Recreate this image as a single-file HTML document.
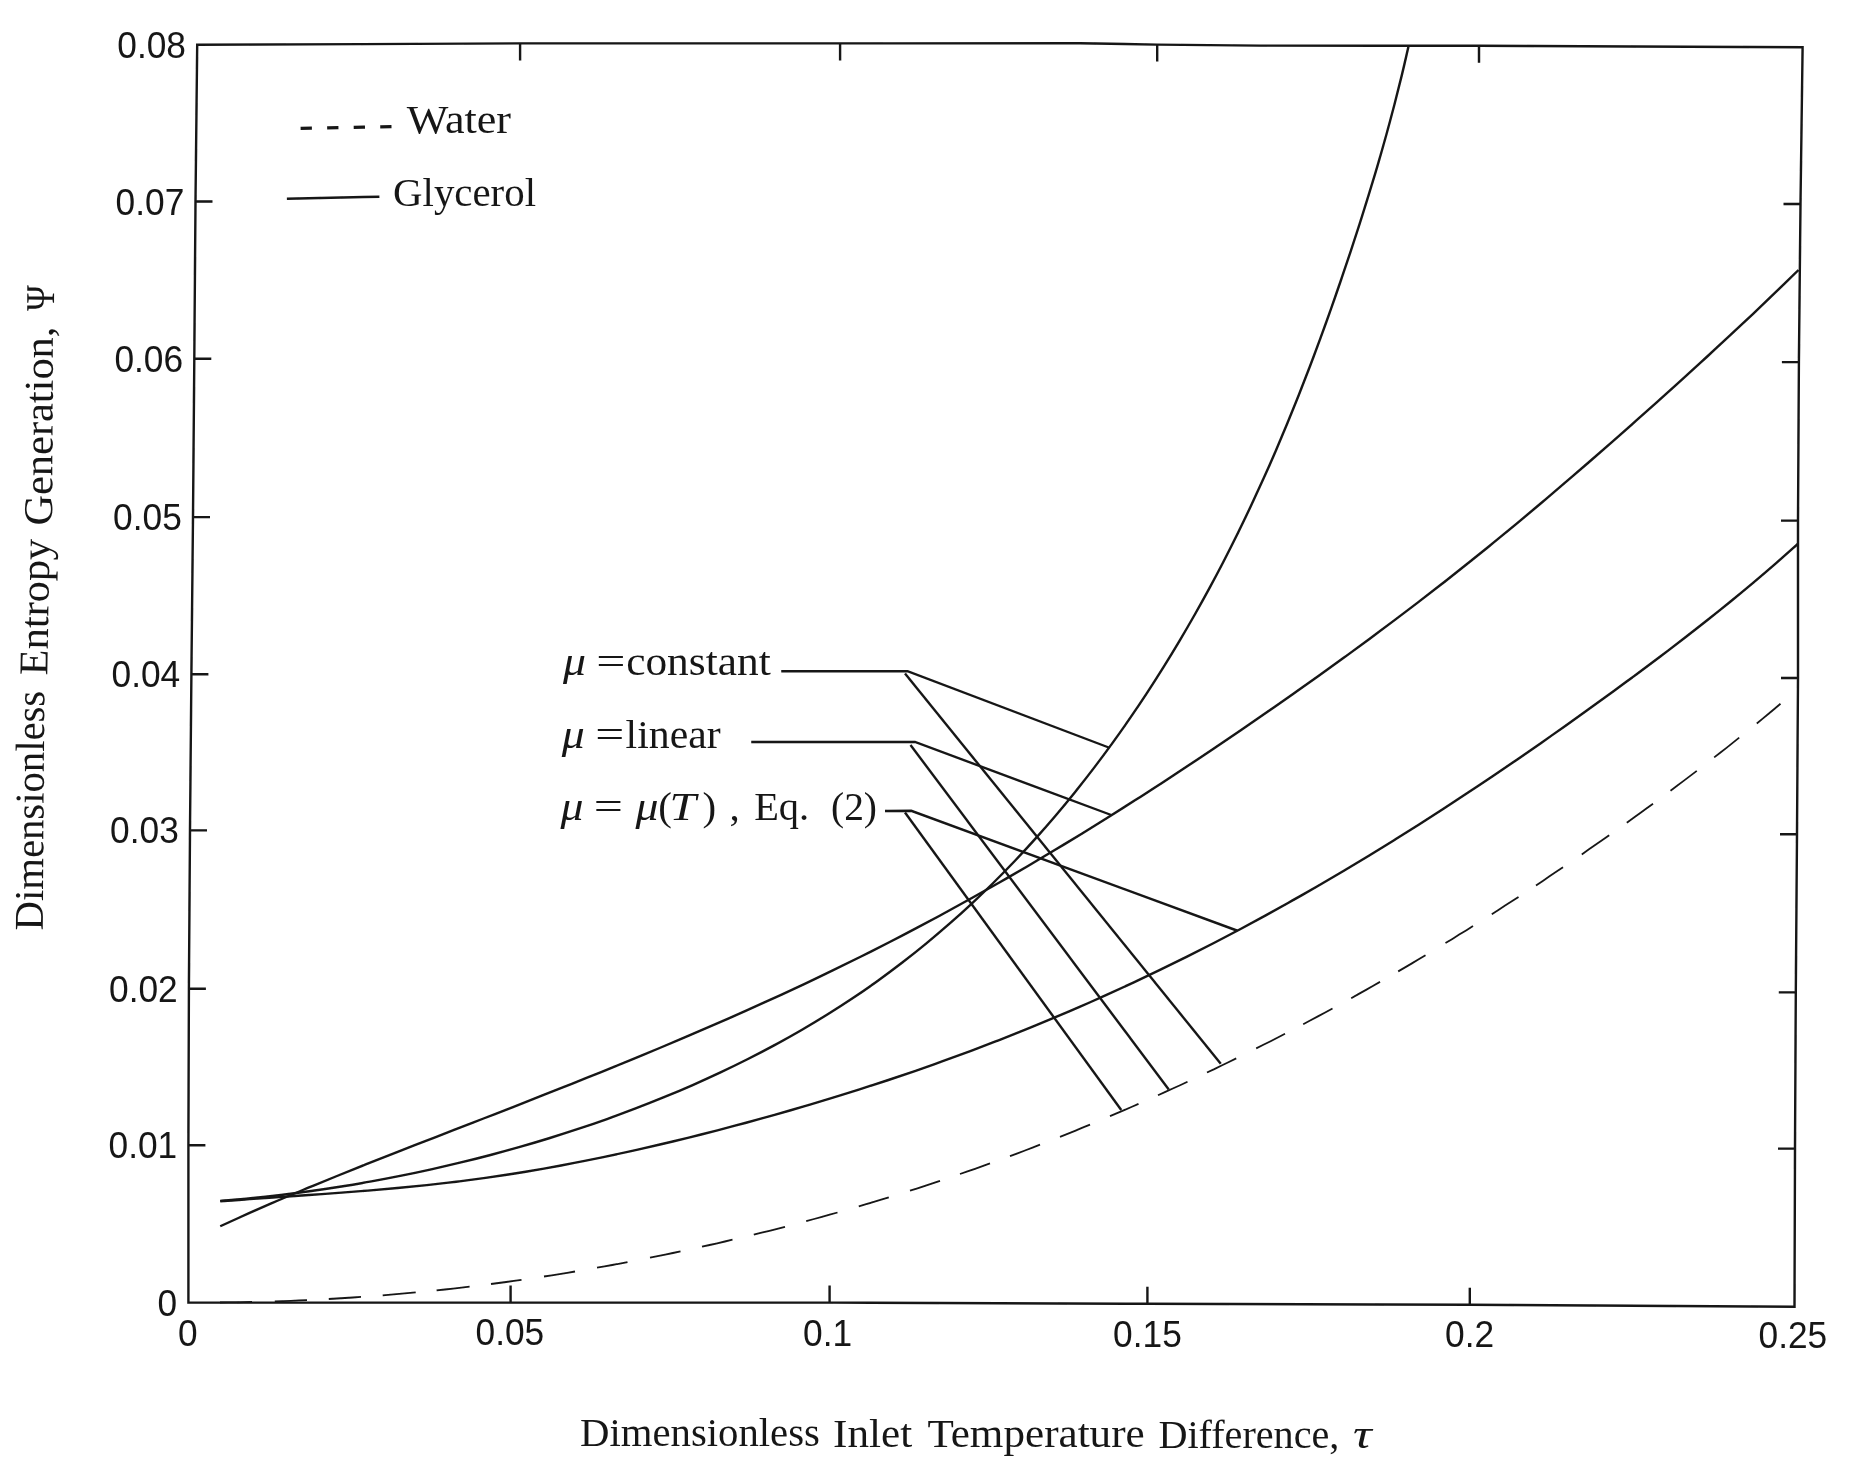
<!DOCTYPE html>
<html lang="en"><head><meta charset="utf-8"><title>Dimensionless Entropy Generation vs Inlet Temperature Difference</title>
<style>html,body{margin:0;padding:0;background:#fff}svg{display:block}</style></head>
<body>
<svg width="1864" height="1474" viewBox="0 0 1864 1474">
<rect width="1864" height="1474" fill="#fff"/>
<defs><filter id="soft" x="0" y="0" width="1864" height="1474" filterUnits="userSpaceOnUse"><feGaussianBlur stdDeviation="0.55"/></filter></defs>
<g filter="url(#soft)">
<g fill="none" stroke="#161616" stroke-linecap="butt" stroke-linejoin="miter">
<path d="M197.20 44.80 L520.00 43.40 L840.00 43.40 L1080.00 43.20 L1157.00 44.60 L1260.00 45.60 L1479.00 45.80 L1802.60 47.20 L1800.50 204.00 L1798.90 362.00 L1798.00 520.00 L1798.00 678.00 L1797.00 834.00 L1795.80 992.00 L1795.00 1148.00 L1794.50 1306.70 L1470.00 1304.70 L1147.00 1303.80 L830.00 1302.60 L510.00 1302.60 L188.40 1302.60 L188.40 1145.00 L188.90 989.00 L190.00 830.00 L191.40 674.00 L193.00 517.00 L194.30 359.00 L195.50 201.50 L197.20 44.80 Z" stroke-width="2.4"/>
<path d="M510.6 1302.6 v-17 M829.6 1302.6 v-17 M1147.4 1303.8 v-17 M1469.8 1304.7 v-17 M520.1 43.4 v17 M840.1 43.4 v17 M1157.2 44.6 v17 M1479.0 45.8 v17 M195.5 201.5 h17 M194.3 358.8 h17 M193.0 517.1 h17 M191.4 674.2 h17 M190.0 830.4 h17 M188.9 988.8 h17 M188.4 1145.3 h17 M1800.5 204.0 h-17 M1798.9 362.1 h-17 M1798.0 520.6 h-17 M1798.0 678.0 h-17 M1797.0 834.3 h-17 M1795.8 992.4 h-17 M1795.0 1148.6 h-17" stroke-width="2.4"/>
<path d="M220.25 1200.90 C225.31 1200.46 240.50 1199.25 250.61 1198.26 C260.72 1197.28 270.83 1196.18 280.92 1194.98 C291.01 1193.78 301.10 1192.47 311.17 1191.06 C321.23 1189.65 331.29 1188.14 341.33 1186.53 C351.37 1184.91 361.40 1183.20 371.40 1181.38 C381.41 1179.57 391.40 1177.65 401.36 1175.64 C411.33 1173.63 421.28 1171.52 431.21 1169.32 C441.13 1167.12 451.04 1164.83 460.92 1162.43 C470.80 1160.04 480.65 1157.56 490.48 1154.97 C500.31 1152.38 510.11 1149.70 519.88 1146.92 C529.65 1144.13 539.39 1141.25 549.10 1138.26 C558.81 1135.27 568.50 1132.17 578.14 1128.97 C587.79 1125.77 597.40 1122.47 606.98 1119.05 C616.55 1115.64 626.10 1112.11 635.60 1108.48 C645.10 1104.84 654.57 1101.09 663.99 1097.23 C673.42 1093.36 682.80 1089.39 692.13 1085.29 C701.46 1081.19 710.75 1076.98 719.97 1072.65 C729.19 1068.31 738.37 1063.85 747.46 1059.27 C756.56 1054.69 765.60 1049.98 774.55 1045.14 C783.51 1040.30 792.39 1035.34 801.19 1030.24 C809.99 1025.14 818.71 1019.92 827.33 1014.55 C835.95 1009.18 844.49 1003.68 852.92 998.04 C861.35 992.40 869.68 986.62 877.91 980.71 C886.14 974.79 894.27 968.74 902.30 962.56 C910.32 956.38 918.25 950.07 926.07 943.64 C933.89 937.20 941.61 930.64 949.23 923.96 C956.85 917.28 964.36 910.48 971.77 903.57 C979.18 896.65 986.49 889.62 993.70 882.48 C1000.90 875.35 1008.00 868.09 1015.00 860.74 C1021.99 853.39 1028.89 845.93 1035.67 838.38 C1042.46 830.82 1049.15 823.16 1055.73 815.42 C1062.31 807.67 1068.79 799.83 1075.17 791.90 C1081.54 783.98 1087.82 775.96 1093.99 767.87 C1100.17 759.78 1106.24 751.61 1112.22 743.37 C1118.19 735.13 1124.07 726.81 1129.85 718.43 C1135.62 710.04 1141.30 701.59 1146.88 693.08 C1152.47 684.58 1157.95 676.00 1163.34 667.38 C1168.73 658.76 1174.02 650.08 1179.22 641.35 C1184.42 632.62 1189.52 623.84 1194.54 615.01 C1199.55 606.18 1204.47 597.30 1209.31 588.37 C1214.15 579.45 1218.89 570.47 1223.56 561.45 C1228.22 552.43 1232.80 543.36 1237.29 534.26 C1241.79 525.15 1246.20 516.00 1250.54 506.80 C1254.87 497.61 1259.12 488.38 1263.30 479.11 C1267.48 469.84 1271.57 460.53 1275.60 451.18 C1279.63 441.84 1283.57 432.46 1287.46 423.05 C1291.34 413.64 1295.15 404.19 1298.90 394.72 C1302.65 385.25 1306.33 375.75 1309.96 366.23 C1313.58 356.71 1317.14 347.16 1320.64 337.60 C1324.15 328.04 1327.59 318.45 1330.99 308.85 C1334.38 299.25 1337.72 289.62 1341.01 279.99 C1344.31 270.36 1347.55 260.72 1350.75 251.07 C1353.94 241.41 1357.09 231.75 1360.18 222.07 C1363.28 212.39 1366.32 202.70 1369.30 192.98 C1372.27 183.27 1375.20 173.54 1378.05 163.79 C1380.90 154.04 1383.69 144.27 1386.40 134.48 C1389.11 124.68 1391.75 114.86 1394.31 105.02 C1396.87 95.17 1399.36 85.30 1401.76 75.40 C1404.16 65.50 1407.54 50.57 1408.70 45.60" stroke-width="2.4"/>
<path d="M220.25 1226.25 C225.05 1224.07 239.40 1217.46 249.03 1213.17 C258.65 1208.88 268.31 1204.67 277.99 1200.51 C287.67 1196.36 297.38 1192.27 307.11 1188.23 C316.84 1184.18 326.60 1180.19 336.36 1176.24 C346.13 1172.28 355.92 1168.37 365.71 1164.48 C375.51 1160.59 385.32 1156.74 395.13 1152.89 C404.94 1149.05 414.77 1145.23 424.59 1141.40 C434.41 1137.58 444.24 1133.77 454.06 1129.96 C463.89 1126.14 473.71 1122.33 483.53 1118.50 C493.35 1114.68 503.17 1110.85 512.98 1107.01 C522.80 1103.17 532.61 1099.32 542.41 1095.46 C552.21 1091.59 562.01 1087.71 571.80 1083.81 C581.59 1079.91 591.37 1075.99 601.14 1072.04 C610.91 1068.09 620.67 1064.12 630.42 1060.12 C640.17 1056.11 649.90 1052.08 659.63 1048.01 C669.35 1043.94 679.06 1039.84 688.76 1035.70 C698.45 1031.56 708.13 1027.39 717.79 1023.17 C727.45 1018.95 737.10 1014.69 746.72 1010.39 C756.34 1006.09 765.94 1001.74 775.52 997.35 C785.10 992.96 794.66 988.52 804.19 984.04 C813.72 979.55 823.23 975.01 832.71 970.42 C842.19 965.83 851.64 961.19 861.06 956.50 C870.48 951.80 879.88 947.05 889.24 942.24 C898.61 937.44 907.94 932.58 917.25 927.66 C926.55 922.75 935.83 917.78 945.08 912.76 C954.33 907.74 963.55 902.67 972.74 897.55 C981.93 892.42 991.10 887.25 1000.24 882.02 C1009.38 876.80 1018.49 871.53 1027.57 866.20 C1036.66 860.88 1045.71 855.51 1054.75 850.09 C1063.78 844.67 1072.78 839.21 1081.76 833.70 C1090.75 828.18 1099.70 822.63 1108.63 817.03 C1117.56 811.43 1126.46 805.78 1135.35 800.10 C1144.23 794.42 1153.08 788.70 1161.92 782.94 C1170.75 777.19 1179.56 771.39 1188.34 765.56 C1197.13 759.74 1205.89 753.87 1214.63 747.98 C1223.37 742.09 1232.09 736.17 1240.78 730.22 C1249.48 724.27 1258.15 718.29 1266.80 712.29 C1275.45 706.29 1284.09 700.26 1292.69 694.21 C1301.29 688.15 1309.88 682.07 1318.43 675.96 C1326.98 669.85 1335.51 663.72 1344.01 657.55 C1352.50 651.38 1360.97 645.18 1369.40 638.95 C1377.84 632.72 1386.24 626.46 1394.60 620.16 C1402.97 613.87 1411.30 607.54 1419.60 601.17 C1427.89 594.81 1436.14 588.41 1444.36 581.97 C1452.57 575.54 1460.74 569.06 1468.88 562.55 C1477.02 556.04 1485.11 549.49 1493.18 542.91 C1501.25 536.33 1509.28 529.71 1517.29 523.05 C1525.30 516.40 1533.28 509.71 1541.24 502.98 C1549.21 496.26 1557.14 489.50 1565.07 482.71 C1573.00 475.91 1580.90 469.09 1588.80 462.23 C1596.70 455.37 1604.59 448.48 1612.47 441.55 C1620.36 434.63 1628.24 427.67 1636.11 420.68 C1643.99 413.70 1651.87 406.68 1659.72 399.63 C1667.58 392.58 1675.44 385.50 1683.27 378.40 C1691.10 371.29 1698.92 364.16 1706.71 357.00 C1714.49 349.84 1722.26 342.66 1729.99 335.45 C1737.72 328.25 1745.42 321.01 1753.08 313.76 C1760.73 306.51 1768.36 299.24 1775.93 291.94 C1783.50 284.65 1794.74 273.66 1798.50 270.00" stroke-width="2.4"/>
<path d="M220.25 1201.30 C225.17 1200.94 239.91 1199.86 249.75 1199.16 C259.58 1198.46 269.43 1197.79 279.27 1197.11 C289.11 1196.42 298.96 1195.75 308.80 1195.05 C318.65 1194.35 328.49 1193.65 338.34 1192.91 C348.18 1192.16 358.02 1191.40 367.85 1190.59 C377.69 1189.77 387.52 1188.92 397.34 1188.01 C407.17 1187.09 416.99 1186.13 426.79 1185.08 C436.60 1184.04 446.40 1182.93 456.19 1181.73 C465.98 1180.53 475.76 1179.24 485.52 1177.87 C495.29 1176.49 505.04 1175.02 514.78 1173.47 C524.52 1171.92 534.25 1170.28 543.96 1168.57 C553.68 1166.85 563.38 1165.06 573.07 1163.19 C582.76 1161.33 592.44 1159.38 602.10 1157.38 C611.76 1155.37 621.41 1153.29 631.05 1151.15 C640.69 1149.01 650.31 1146.80 659.93 1144.54 C669.54 1142.28 679.14 1139.96 688.72 1137.58 C698.30 1135.21 707.88 1132.78 717.43 1130.31 C726.99 1127.83 736.53 1125.31 746.06 1122.73 C755.59 1120.16 765.10 1117.54 774.60 1114.86 C784.09 1112.19 793.57 1109.46 803.03 1106.68 C812.49 1103.90 821.94 1101.07 831.36 1098.19 C840.78 1095.31 850.19 1092.37 859.57 1089.38 C868.95 1086.39 878.31 1083.34 887.65 1080.24 C896.99 1077.14 906.30 1073.98 915.59 1070.77 C924.89 1067.55 934.15 1064.28 943.40 1060.95 C952.64 1057.63 961.85 1054.24 971.04 1050.80 C980.24 1047.35 989.40 1043.85 998.54 1040.29 C1007.68 1036.72 1016.80 1033.10 1025.89 1029.42 C1034.98 1025.74 1044.04 1022.00 1053.09 1018.20 C1062.13 1014.40 1071.15 1010.54 1080.14 1006.62 C1089.14 1002.70 1098.11 998.72 1107.06 994.68 C1116.01 990.64 1124.93 986.53 1133.84 982.37 C1142.74 978.20 1151.62 973.98 1160.48 969.69 C1169.34 965.40 1178.18 961.05 1187.00 956.64 C1195.82 952.23 1204.61 947.75 1213.38 943.22 C1222.15 938.69 1230.90 934.09 1239.63 929.45 C1248.35 924.80 1257.05 920.10 1265.72 915.34 C1274.39 910.59 1283.04 905.78 1291.66 900.92 C1300.28 896.07 1308.87 891.16 1317.43 886.21 C1325.99 881.25 1334.52 876.25 1343.02 871.21 C1351.52 866.17 1359.99 861.08 1368.43 855.95 C1376.87 850.82 1385.27 845.65 1393.64 840.44 C1402.01 835.24 1410.35 829.99 1418.66 824.71 C1426.96 819.43 1435.23 814.11 1443.48 808.76 C1451.72 803.41 1459.93 798.02 1468.12 792.60 C1476.31 787.17 1484.47 781.72 1492.60 776.23 C1500.74 770.74 1508.85 765.21 1516.94 759.65 C1525.03 754.10 1533.10 748.51 1541.15 742.89 C1549.20 737.26 1557.22 731.61 1565.24 725.93 C1573.25 720.25 1581.25 714.53 1589.23 708.79 C1597.21 703.04 1605.18 697.27 1613.14 691.47 C1621.09 685.66 1629.04 679.83 1636.95 673.96 C1644.87 668.09 1652.77 662.19 1660.64 656.24 C1668.51 650.29 1676.35 644.31 1684.16 638.27 C1691.97 632.24 1699.75 626.16 1707.48 620.03 C1715.21 613.90 1722.91 607.72 1730.56 601.49 C1738.21 595.25 1745.82 588.96 1753.37 582.61 C1760.92 576.26 1768.42 569.85 1775.86 563.38 C1783.30 556.90 1794.31 547.02 1798.00 543.75" stroke-width="2.4"/>
<path d="M220.0 1302.5 L228.0 1302.4 L236.0 1302.3 L244.0 1302.2 L252.0 1302.0 M274.8 1301.4 L282.9 1301.1 L290.9 1300.8 L298.9 1300.4 L307.0 1300.1 M328.8 1299.0 L336.9 1298.5 L344.9 1298.0 L352.9 1297.5 L361.0 1296.9 M382.7 1295.3 L390.9 1294.6 L399.2 1293.9 L407.4 1293.2 L415.7 1292.4 M436.6 1290.4 L444.9 1289.5 L453.1 1288.6 L461.4 1287.6 L469.6 1286.7 M491.0 1284.0 L498.6 1283.0 L506.2 1282.0 L513.9 1280.9 L521.5 1279.8 M544.0 1276.5 L551.8 1275.3 L559.5 1274.1 L567.2 1272.8 L575.0 1271.5 M597.0 1267.7 L604.6 1266.4 L612.2 1265.0 L619.9 1263.6 L627.5 1262.1 M650.0 1257.7 L657.6 1256.2 L665.2 1254.6 L672.9 1253.0 L680.5 1251.4 M702.0 1246.7 L709.6 1245.0 L717.2 1243.3 L724.9 1241.5 L732.5 1239.7 M753.8 1234.6 L761.6 1232.7 L769.4 1230.8 L777.2 1228.8 L785.0 1226.8 M806.2 1221.2 L814.1 1219.0 L821.9 1216.9 L829.7 1214.7 L837.5 1212.5 M858.8 1206.4 L866.2 1204.2 L873.8 1201.9 L881.2 1199.6 L888.8 1197.3 M910.0 1190.7 L917.5 1188.3 L925.0 1185.8 L932.5 1183.4 L940.0 1180.9 M960.0 1174.0 L967.5 1171.4 L975.0 1168.8 L982.5 1166.1 L990.0 1163.4 M1010.0 1156.1 L1017.5 1153.3 L1025.0 1150.5 L1032.5 1147.6 L1040.0 1144.7 M1060.0 1136.8 L1067.5 1133.8 L1075.0 1130.8 L1082.5 1127.7 L1090.0 1124.6 M1110.0 1116.2 L1117.1 1113.2 L1124.2 1110.1 L1131.4 1107.0 L1138.5 1103.9 M1158.0 1095.2 L1165.4 1091.9 L1172.8 1088.5 L1180.1 1085.2 L1187.5 1081.7 M1207.0 1072.5 L1214.3 1069.1 L1221.6 1065.5 L1228.9 1062.0 L1236.2 1058.4 M1256.2 1048.4 L1263.4 1044.8 L1270.6 1041.2 L1277.8 1037.5 L1285.0 1033.8 M1303.2 1024.2 L1310.6 1020.3 L1317.9 1016.4 L1325.2 1012.5 L1332.5 1008.5 M1351.2 998.2 L1358.4 994.1 L1365.6 990.1 L1372.8 986.0 L1380.0 981.9 M1398.2 971.4 L1405.1 967.4 L1411.9 963.4 L1418.7 959.3 L1425.5 955.2 M1445.5 943.1 L1452.4 938.9 L1459.2 934.6 L1466.1 930.4 L1473.0 926.1 M1491.8 914.2 L1498.4 909.9 L1505.1 905.6 L1511.8 901.3 L1518.5 896.9 M1536.0 885.4 L1542.8 880.9 L1549.5 876.3 L1556.2 871.8 L1563.0 867.2 M1581.8 854.4 L1588.6 849.6 L1595.5 844.8 L1602.4 840.0 L1609.2 835.2 M1626.8 822.7 L1633.3 818.0 L1639.9 813.2 L1646.4 808.5 L1653.0 803.7 M1670.5 790.7 L1677.1 785.8 L1683.6 780.9 L1690.2 775.9 L1696.8 770.9 M1714.2 757.4 L1720.5 752.5 L1726.8 747.6 L1733.0 742.6 L1739.2 737.6 M1756.8 723.5 L1762.7 718.6 L1768.6 713.7 L1774.6 708.8 L1780.5 703.8" stroke-width="1.8"/>
<path d="M781.25 671.25 L907.50 671.25 L1108.75 747.50" stroke-width="2.4"/>
<path d="M905.00 673.50 L1220.75 1063.75" stroke-width="2.4"/>
<path d="M751.25 742.00 L915.00 742.00 L1111.25 815.00" stroke-width="2.4"/>
<path d="M910.50 745.00 L1168.75 1089.50" stroke-width="2.4"/>
<path d="M885.00 811.00 L911.25 810.75 L1237.50 930.75" stroke-width="2.4"/>
<path d="M905.00 812.50 L1121.25 1110.00" stroke-width="2.4"/>
<path d="M286.9 198.8 L379.4 196.7" stroke-width="2.5"/>
<path d="M300.6 128.3 L391.5 126.7" stroke-width="3.2" stroke-dasharray="11.3 15.25"/>
</g>
<g font-family="'Liberation Sans', sans-serif" font-size="36.5" fill="#161616">
<text x="117.3" y="57.8" textLength="68.7" lengthAdjust="spacingAndGlyphs">0.08</text>
<text x="115.6" y="214.5" textLength="68.7" lengthAdjust="spacingAndGlyphs">0.07</text>
<text x="114.4" y="371.8" textLength="68.7" lengthAdjust="spacingAndGlyphs">0.06</text>
<text x="113.1" y="530.1" textLength="68.7" lengthAdjust="spacingAndGlyphs">0.05</text>
<text x="111.5" y="687.2" textLength="68.7" lengthAdjust="spacingAndGlyphs">0.04</text>
<text x="110.1" y="843.4" textLength="68.7" lengthAdjust="spacingAndGlyphs">0.03</text>
<text x="109.0" y="1001.8" textLength="68.7" lengthAdjust="spacingAndGlyphs">0.02</text>
<text x="108.5" y="1158.3" textLength="68.7" lengthAdjust="spacingAndGlyphs">0.01</text>
<text x="157.6" y="1315.6" textLength="19.6" lengthAdjust="spacingAndGlyphs">0</text>
<text x="178.1" y="1345.8" textLength="19.6" lengthAdjust="spacingAndGlyphs">0</text>
<text x="475.5" y="1344.6" textLength="68.7" lengthAdjust="spacingAndGlyphs">0.05</text>
<text x="803.1" y="1345.6" textLength="49.1" lengthAdjust="spacingAndGlyphs">0.1</text>
<text x="1113.1" y="1346.5" textLength="68.7" lengthAdjust="spacingAndGlyphs">0.15</text>
<text x="1445.1" y="1347.3" textLength="49.1" lengthAdjust="spacingAndGlyphs">0.2</text>
<text x="1758.5" y="1348.2" textLength="68.7" lengthAdjust="spacingAndGlyphs">0.25</text>
</g>
<g font-family="'Liberation Serif', serif" font-size="41" fill="#161616">
<text><tspan x="406.8" y="133.1" textLength="104.2" lengthAdjust="spacingAndGlyphs">Water</tspan></text>
<text><tspan x="393.1" y="206.3" textLength="142.9" lengthAdjust="spacingAndGlyphs">Glycerol</tspan></text>
<text><tspan x="580.1" y="1445.9" textLength="239.8" lengthAdjust="spacingAndGlyphs">Dimensionless</tspan> <tspan x="833.1" y="1446.7" textLength="79.1" lengthAdjust="spacingAndGlyphs">Inlet</tspan> <tspan x="927.4" y="1447.0" textLength="217.3" lengthAdjust="spacingAndGlyphs">Temperature</tspan> <tspan x="1158.4" y="1447.7" textLength="181.0" lengthAdjust="spacingAndGlyphs">Difference,</tspan> <tspan x="1353.0" y="1448.3" textLength="18.7" lengthAdjust="spacingAndGlyphs" font-style="italic">τ</tspan></text>
<text transform="translate(42.7 929.6) rotate(-89.61)"><tspan x="-0.8" y="0.0" textLength="239.6" lengthAdjust="spacingAndGlyphs">Dimensionless</tspan></text>
<text transform="translate(47.2 674.6) rotate(-89.00)"><tspan x="-0.8" y="0.0" textLength="136.4" lengthAdjust="spacingAndGlyphs">Entropy</tspan></text>
<text transform="translate(52.1 524.8) rotate(-89.74)"><tspan x="-0.8" y="0.0" textLength="199.0" lengthAdjust="spacingAndGlyphs">Generation,</tspan></text>
<text transform="translate(54.0 310.3) rotate(-89.74)"><tspan x="-0.8" y="0.0" textLength="25.6" lengthAdjust="spacingAndGlyphs">Ψ</tspan></text>
<text><tspan x="563.0" y="675.0" textLength="23.0" lengthAdjust="spacingAndGlyphs" font-style="italic">μ</tspan><tspan x="596.3" y="675.0" textLength="29.2" lengthAdjust="spacingAndGlyphs">=</tspan><tspan x="626.2" y="675.0" textLength="144.5" lengthAdjust="spacingAndGlyphs">constant</tspan></text>
<text><tspan x="561.8" y="747.5" textLength="23.0" lengthAdjust="spacingAndGlyphs" font-style="italic">μ</tspan><tspan x="595.3" y="747.5" textLength="29.0" lengthAdjust="spacingAndGlyphs">=</tspan><tspan x="625.6" y="747.5" textLength="95.0" lengthAdjust="spacingAndGlyphs">linear</tspan></text>
<text><tspan x="560.5" y="820.0" textLength="23.0" lengthAdjust="spacingAndGlyphs" font-style="italic">μ</tspan><tspan x="593.8" y="820.0" textLength="29.2" lengthAdjust="spacingAndGlyphs">=</tspan><tspan x="635.5" y="820.0" textLength="23.0" lengthAdjust="spacingAndGlyphs" font-style="italic">μ</tspan><tspan x="658.2" y="820.0">(</tspan><tspan x="669.5" y="820.0" textLength="26.5" lengthAdjust="spacingAndGlyphs" font-style="italic">T</tspan><tspan x="702.5" y="820.0">)</tspan><tspan x="729.5" y="820.0">,</tspan><tspan x="754.2" y="820.0" textLength="55.0" lengthAdjust="spacingAndGlyphs">Eq.</tspan><tspan x="831.0" y="820.0" textLength="46.0" lengthAdjust="spacingAndGlyphs">(2)</tspan></text>
</g>
</g>
</svg>
</body></html>
